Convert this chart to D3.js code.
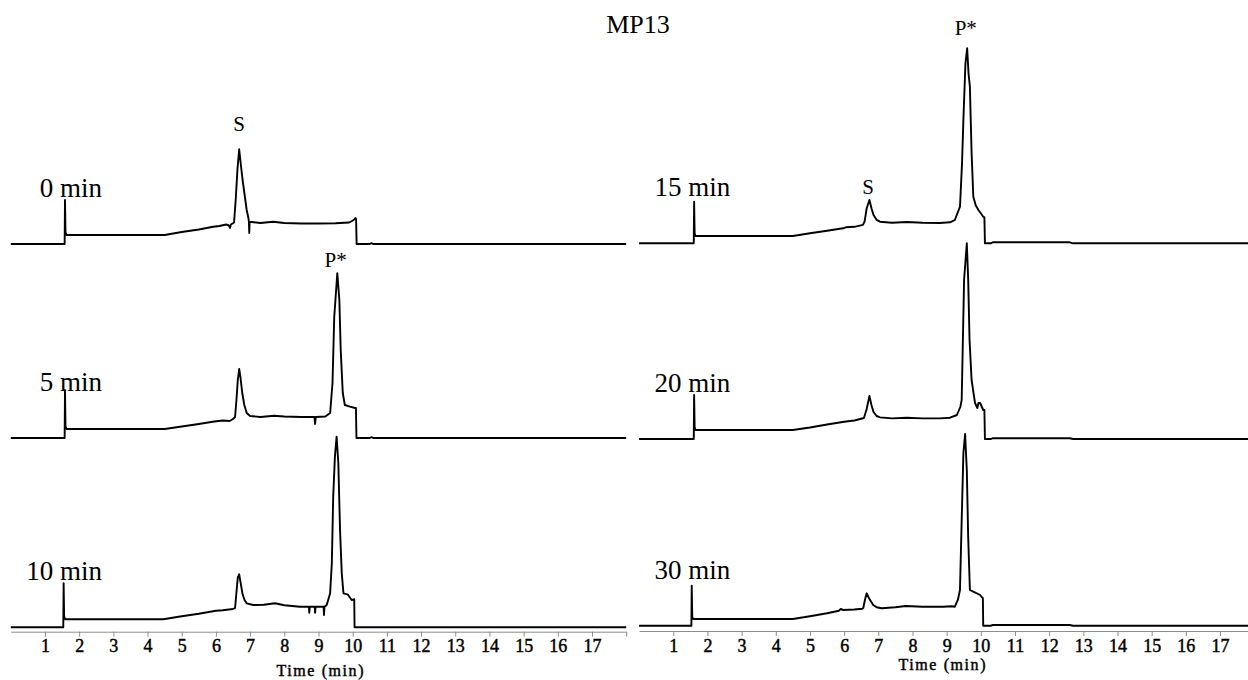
<!DOCTYPE html>
<html>
<head>
<meta charset="utf-8">
<script src="https://cdn.jsdelivr.net/npm/d3@7"></script>
<style>
body { margin: 0; background: #fff; }
text { font-family: "Liberation Serif", "Times New Roman", serif; fill: #000; }
.trace { fill: none; stroke: #000; stroke-width: 1.9; stroke-linejoin: round; }
.axis path, .axis line { stroke: #8c8c8c; stroke-width: 1; }
.heavy { stroke: #000; stroke-width: 0.45; }
</style>
</head>
<body>
<svg id="chart"></svg>
<script>
// reaction time of each injection
var runLabels = ["0 min", "5 min", "10 min", "15 min", "20 min", "30 min"];

// chromatograms: [retention time (min), signal (mAU)]
var trace0 = [[0,0],[1.575,0],[1.585,44],[1.6,12],[1.63,9],[2.5,9],[3.5,9],[4.5,9],[5.0,12],[5.5,14.5],
  [5.92,17.3],[6.1,18],[6.3,19.5],[6.38,18.5],[6.41,16],[6.44,19.5],[6.53,21.5],[6.58,45],[6.63,75],
  [6.68,94.7],[6.72,82],[6.78,64],[6.84,49],[6.9,34],[6.95,26],[6.965,22],[6.975,11],[6.985,22],
  [7.05,22],[7.3,21],[7.67,22.3],[8.0,21],[8.5,20.5],[9.0,20.5],[9.5,20.7],[9.9,21.5],[10.03,24],
  [10.08,26],[10.1,25],[10.115,0],[10.5,0],[10.55,0.8],[10.6,0],[18,0]];

var trace5 = [[0,0],[1.575,0],[1.585,48],[1.6,12],[1.63,9],[2.5,9],[3.5,9],[4.5,9],[5.0,11.5],[5.5,14],
  [5.95,16.5],[6.2,17.5],[6.4,17],[6.5,19],[6.56,21],[6.6,38],[6.64,58],[6.68,69],[6.72,60],[6.77,45],
  [6.83,33],[6.9,25],[7.0,22],[7.3,21],[7.7,22.3],[8.0,21.5],[8.5,21],[8.88,21],[8.9,14],[8.92,21],
  [9.2,21.5],[9.34,25],[9.41,55],[9.46,121],[9.55,164.7],[9.61,138],[9.65,88],[9.71,45],[9.77,33],
  [9.92,31.3],[10.07,30],[10.095,30],[10.11,0],[10.5,0],[10.55,0.8],[10.6,0],[18,0]];

var trace10 = [[0,0],[1.535,0],[1.545,44],[1.56,11],[1.59,8],[2.5,8],[3.5,8],[4.46,8],[5.0,11],[5.5,13.5],
  [6.0,16.6],[6.2,17],[6.5,18.3],[6.56,19.3],[6.6,35],[6.64,50],[6.68,53],[6.72,45],[6.78,33],[6.84,27],
  [6.9,24],[7.09,22.3],[7.4,22.5],[7.73,24],[8.0,22],[8.46,20.6],[8.72,20.6],[8.73,14.6],[8.745,20.6],
  [8.89,20.6],[8.9,14.6],[8.915,20.6],[9.15,20.6],[9.16,12.3],[9.175,20.6],[9.24,22.3],[9.34,34],
  [9.39,64.3],[9.43,130.6],[9.48,170.6],[9.53,190.6],[9.58,164.3],[9.63,97.3],[9.68,54.3],[9.73,34],
  [9.85,33],[9.97,27.3],[10.03,28],[10.045,28],[10.055,0],[10.5,0],[18,0]];

var trace15 = [[0,0],[1.6,0],[1.61,41.6],[1.625,10],[1.65,7.3],[2.5,7.3],[3.5,7.3],[4.5,7.3],[5.0,10],
  [5.5,12.5],[5.97,15],[6.05,16],[6.3,16.5],[6.55,18.5],[6.6,22],[6.66,35],[6.74,43.3],[6.8,35],
  [6.86,28.3],[6.95,23.5],[7.05,21.6],[7.4,20.6],[7.83,21.3],[8.3,20.6],[8.8,20.3],[9.1,21],[9.24,23.3],
  [9.39,36.6],[9.45,80],[9.49,123.3],[9.55,180],[9.6,195],[9.64,170],[9.68,156.6],[9.73,90.3],
  [9.78,46.6],[9.85,38],[9.93,33.3],[10.0,30],[10.07,26.6],[10.105,26],[10.12,0],[10.3,0],[10.35,1],
  [12.6,1],[12.7,0],[18,0]];

var trace20 = [[0,0],[1.6,0],[1.61,44],[1.625,12],[1.65,9],[2.5,9],[3.5,9],[4.5,9],[5.0,11.5],[5.5,14.5],
  [6.0,17.3],[6.3,18.5],[6.58,21],[6.66,30],[6.74,43],[6.8,34],[6.86,27],[6.95,23],[7.05,21.6],
  [7.4,20.6],[7.83,21.3],[8.3,20.6],[8.8,20.6],[9.1,21.3],[9.3,24],[9.4,32],[9.44,39],[9.51,159],
  [9.59,195.7],[9.63,160],[9.67,99],[9.73,59],[9.83,36],[9.9,31],[9.93,36],[9.98,36],[10.07,29],
  [10.105,29],[10.12,0],[10.3,0],[10.35,0.8],[12.6,0.8],[12.7,0],[18,0]];

var trace30 = [[0,0],[1.53,0],[1.54,40],[1.555,9],[1.58,6.7],[2.5,6.7],[3.5,6.7],[4.5,6.7],[5.0,9.5],
  [5.5,12.5],[5.85,15],[5.9,16.7],[5.97,15.7],[6.3,16.2],[6.53,17],[6.56,17.7],[6.61,26],[6.66,32.4],
  [6.72,28],[6.76,25.7],[6.85,20.7],[6.95,18.5],[7.1,17.4],[7.5,18.5],[7.8,19.7],[8.3,19],[8.9,19],
  [9.15,19.5],[9.24,19],[9.33,26],[9.39,35.7],[9.44,105.7],[9.49,172.7],[9.54,191.7],[9.57,170],
  [9.59,155.7],[9.63,89],[9.68,35.7],[9.78,34],[9.98,30.7],[10.05,27.7],[10.06,27.7],[10.07,0],
  [10.3,0],[10.35,0.7],[12.6,0.7],[12.7,0],[18,0]];

// peak annotations: run index, retention time, signal height of the label baseline
var peakNames = ["S", "P*", "S", "P*"];
var peakRuns  = [0, 1, 3, 3];
var peakTimes = [6.68, 9.5, 6.7, 9.56];
var peakLabelHeights = [113.5, 171.3, 49.3, 208.3];

// axis ticks
var tickValues = [1,2,3,4,5,6,7,8,9,10,11,12,13,14,15,16,17,18];
var tickLabelMax = 17;

var traces = [trace0, trace5, trace10, trace15, trace20, trace30];

var serif = "'Liberation Serif', 'Times New Roman', serif";

var initGraph = function(target)
{
    var screen = {width:1248, height:680};

    // each panel: horizontal range, axis height, baseline of each row
    var panels = [
        {range:[10.8, 626.2], axisY:631.7, bases:[244, 438, 627.3], xLabelY:676, xLabelX:320},
        {range:[639.1, 1254.2], axisY:631, bases:[243.3, 439, 625.7], xLabelY:670, xLabelX:942}
    ];

    var svg = d3.select(target)
        .attr("width", screen.width)
        .attr("height", screen.height);

    svg.append("text")
        .text("MP13")
        .attr("x", 638)
        .attr("y", 33)
        .attr("text-anchor", "middle")
        .attr("font-family", serif)
        .attr("font-size", 26);

    panels.forEach(function(panel, p)
    {
        var xScale = d3.scaleLinear()
            .domain([0, 18])
            .range(panel.range);

        var xAxis = d3.axisBottom(xScale)
            .tickValues(tickValues)
            .tickSize(5)
            .tickSizeOuter(0)
            .tickFormat(function(d){ return d <= tickLabelMax ? d : ""; });

        var axis = svg.append("g")
            .classed("axis", true)
            .attr("transform", "translate(0," + panel.axisY + ")")
            .call(xAxis)
            .attr("font-family", serif)
            .attr("font-size", 18);

        axis.selectAll(".tick text")
            .classed("heavy", true);

        svg.append("text")
            .text("Time (min)")
            .classed("heavy", true)
            .attr("x", panel.xLabelX)
            .attr("y", panel.xLabelY)
            .attr("text-anchor", "middle")
            .attr("textLength", 87)
            .attr("lengthAdjust", "spacing")
            .attr("font-family", serif)
            .attr("font-size", 16);

        panel.bases.forEach(function(base, r)
        {
            var run = p * 3 + r;
            var yScale = d3.scaleLinear()
                .domain([0, 200])
                .range([base, base - 200]);

            var lineGenerator = d3.line()
                .x(function(d){ return xScale(d[0]); })
                .y(function(d){ return yScale(d[1]); });

            svg.append("path")
                .datum(traces[run])
                .classed("trace", true)
                .attr("d", lineGenerator);

            svg.append("text")
                .text(runLabels[run])
                .attr("x", xScale(2.67))
                .attr("y", yScale(47))
                .attr("text-anchor", "end")
                .attr("font-family", serif)
                .attr("font-size", 27);

            peakNames.forEach(function(name, i)
            {
                if (peakRuns[i] != run) return;
                svg.append("text")
                    .text(name)
                    .attr("x", xScale(peakTimes[i]))
                    .attr("y", yScale(peakLabelHeights[i]))
                    .attr("text-anchor", "middle")
                    .attr("font-family", serif)
                    .attr("font-size", 21);
            });
        });
    });
}

initGraph("#chart");
</script>
</body>
</html>
